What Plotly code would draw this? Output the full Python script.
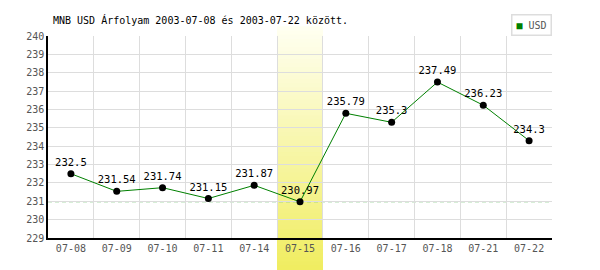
import plotly.graph_objects as go

dates = ["07-08", "07-09", "07-10", "07-11", "07-14", "07-15", "07-16", "07-17", "07-18", "07-21", "07-22"]
usd = [232.5, 231.54, 231.74, 231.15, 231.87, 230.97, 235.79, 235.3, 237.49, 236.23, 234.3]
labels = ["232.5", "231.54", "231.74", "231.15", "231.87", "230.97", "235.79", "235.3", "237.49", "236.23", "234.3"]
highlight = "07-15"
y_range = [229, 240]
title = "MNB USD Árfolyam 2003-07-08 és 2003-07-22 között."

FONT = "DejaVu Sans Mono"
W, H = 600, 270
ml, mr, mt, mb = 48, 48, 36, 32

fig = go.Figure()
fig.add_trace(go.Scatter(
    x=dates, y=usd, mode="lines+markers+text",
    line=dict(color="#008000", width=1),
    marker=dict(color="black", size=7),
    text=labels, textposition="top center",
    textfont=dict(family=FONT, size=10.5, color="black"),
    showlegend=False, cliponaxis=False,
))

# gradient highlight band for selected day
hi = dates.index(highlight)
n = 60
top_p = 1 + (mt - 27) / (H - mt - mb)
bot_p = -mb / (H - mt - mb)
c0 = (255, 255, 242)
c1 = (240, 237, 96)
shapes = []
for i in range(n):
    t = (i + 0.5) / n
    col = "rgb(%d,%d,%d)" % tuple(round(a + (b - a) * t) for a, b in zip(c0, c1))
    y1 = top_p + (bot_p - top_p) * i / n
    y0 = top_p + (bot_p - top_p) * (i + 1) / n
    for layer in ("below", "between"):
        shapes.append(dict(type="rect", xref="x", yref="paper",
                           x0=hi - 0.5, x1=hi + 0.5, y0=y0 - 0.002, y1=y1 + 0.002,
                           fillcolor=col, line=dict(width=0), layer=layer))
# minimum dashed line
shapes.append(dict(type="line", xref="paper", yref="y", x0=0, x1=1,
                   y0=min(usd), y1=min(usd),
                   line=dict(color="#80c880", width=1, dash="4px,3px"), layer="between"))

fig.update_layout(
    width=W, height=H,
    margin=dict(l=ml, r=mr, t=mt, b=mb),
    paper_bgcolor="white", plot_bgcolor="rgba(0,0,0,0)",
    shapes=shapes,
    title=dict(text=title, x=53 / W, xanchor="left", xref="container",
               y=1 - 20 / H, yanchor="middle",
               font=dict(family=FONT, size=10, color="black")),
    xaxis=dict(type="category", tickson="boundaries", showgrid=True,
               gridcolor="#dddddd", gridwidth=1, showline=True, linecolor="black",
               linewidth=1.5, ticks="", range=[-0.5, len(dates) - 0.5],
               tickfont=dict(family=FONT, size=10, color="#555555")),
    yaxis=dict(range=y_range, dtick=1, showgrid=True, gridcolor="#dddddd",
               showline=True, linecolor="black", linewidth=1.5, ticks="",
               zeroline=False,
               tickfont=dict(family=FONT, size=10, color="#555555")),
    annotations=[dict(xref="paper", yref="paper", x=1, y=1, xanchor="right",
                      yanchor="bottom", showarrow=False,
                      text="<span style='color:#008000'>■</span> <span style='color:#555555'>USD</span>",
                      font=dict(family=FONT, size=10),
                      bordercolor="#dddddd", borderwidth=1.5, borderpad=4, bgcolor="white")],
)

fig.write_html("out.html")
